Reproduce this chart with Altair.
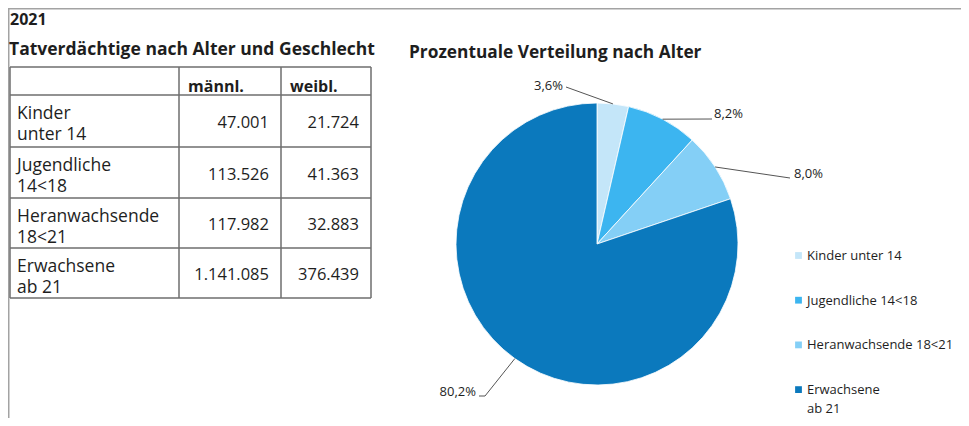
import math
import altair as alt
import pandas as pd

# ---------------- data ----------------
year = "2021"
table_title = "Tatverdächtige nach Alter und Geschlecht"
pie_title = "Prozentuale Verteilung nach Alter"
col_headers = ["männl.", "weibl."]
groups_line1 = ["Kinder", "Jugendliche", "Heranwachsende", "Erwachsene"]
groups_line2 = ["unter 14", "14<18", "18<21", "ab 21"]
male = [47001, 113526, 117982, 1141085]
female = [21724, 41363, 32883, 376439]
legend_labels = ["Kinder unter 14", "Jugendliche 14<18", "Heranwachsende 18<21", "Erwachsene\nab 21"]
pct = [3.6, 8.2, 8.0, 80.2]
pct_labels = ["3,6%", "8,2%", "8,0%", "80,2%"]
colors = ["#c4e6f9", "#3cb5f0", "#84cff6", "#0b79bd"]

# ---------------- layout ----------------
FONT = "Open Sans"
TXT = "#1e1e1e"
OFF = 8
W, H = 953, 410
xs = alt.Scale(domain=[OFF, OFF + W], nice=False, zero=False)
ys = alt.Scale(domain=[OFF, OFF + H], reverse=True, nice=False, zero=False)

col_edges = [10, 179, 281, 371]
row_edges = [67, 95, 147, 198, 248, 298]
pie_cx, pie_cy, pie_r = 597, 244, 141


def de(n):
    return f"{n:,}".replace(",", ".")


def X(f):
    return alt.X(f"{f}:Q", scale=xs, axis=None)


def Y(f):
    return alt.Y(f"{f}:Q", scale=ys, axis=None)


# frame
frame = pd.DataFrame({"x": [OFF, OFF], "y": [OFF, OFF], "x2": [OFF + W, OFF], "y2": [OFF, OFF + H]})
frame_layer = alt.Chart(frame).mark_rule(color="#a3a3a3", strokeWidth=3).encode(
    x=X("x"), y=Y("y"), x2="x2:Q", y2="y2:Q")

# table grid
grid_rows = []
for yv in row_edges:
    grid_rows.append({"x": col_edges[0], "x2": col_edges[-1], "y": yv, "y2": yv})
for xv in col_edges:
    grid_rows.append({"x": xv, "x2": xv, "y": row_edges[0], "y2": row_edges[-1]})
grid = alt.Chart(pd.DataFrame(grid_rows)).mark_rule(color="#6e6e6e", strokeWidth=1.5).encode(
    x=X("x"), y=Y("y"), x2="x2:Q", y2="y2:Q")

# titles
titles = pd.DataFrame({
    "t": [year, table_title, pie_title],
    "x": [10, 9, 409],
    "y": [25, 55, 58],
    "s": [16, 17.5, 17.3],
})
title_layer = alt.Chart(titles).mark_text(font=FONT, fontWeight="bold", align="left",
                                          baseline="alphabetic", color=TXT).encode(
    x=X("x"), y=Y("y"), text="t:N", size=alt.Size("s:Q", scale=None, legend=None))

# header
hdr = pd.DataFrame({"t": col_headers, "x": [c + 9 for c in col_edges[1:3]], "y": [row_edges[0] + 25] * 2})
hdr_layer = alt.Chart(hdr).mark_text(font=FONT, fontWeight="bold", fontSize=16, align="left",
                                     baseline="alphabetic", color=TXT).encode(
    x=X("x"), y=Y("y"), text="t:N")

# row labels
lab = pd.DataFrame({
    "t": [a + "\n" + b for a, b in zip(groups_line1, groups_line2)],
    "x": [col_edges[0] + 7] * 4,
    "y": [row_edges[i + 1] + 24 for i in range(4)],
})
lab_layer = alt.Chart(lab).mark_text(font=FONT, fontSize=17.5, align="left", baseline="alphabetic",
                                     lineBreak="\n", lineHeight=21, color=TXT).encode(
    x=X("x"), y=Y("y"), text="t:N")

# numbers
nums = []
for i in range(4):
    mid = (row_edges[i + 1] + row_edges[i + 2]) / 2
    nums.append({"t": de(male[i]), "x": col_edges[2] - 12, "y": mid + 7})
    nums.append({"t": de(female[i]), "x": col_edges[3] - 12, "y": mid + 7})
num_layer = alt.Chart(pd.DataFrame(nums)).mark_text(font=FONT, fontSize=16.5, align="right",
                                                    baseline="alphabetic", color=TXT).encode(
    x=X("x"), y=Y("y"), text="t:N")

# pie
pie_df = pd.DataFrame({"g": legend_labels, "pct": pct, "idx": list(range(4))})
cscale = alt.Scale(domain=legend_labels, range=colors)
pie = alt.Chart(pie_df).mark_arc(radius=pie_r, stroke="white", strokeWidth=0.8).encode(
    theta=alt.Theta("pct:Q", stack=True),
    color=alt.Color("g:N", scale=cscale, legend=None),
    order=alt.Order("idx:Q"),
    x=alt.value(pie_cx - OFF), y=alt.value(pie_cy - OFF))

# leader lines: start at middle of each slice on the rim
leader_ends = [[(566, 87)], [(712, 119)], [(790, 178)], [(485, 396), (479, 396)]]
lead = []
cum = 0.0
for i, p in enumerate(pct):
    a = (cum + p / 2) / 100 * 2 * math.pi
    cum += p
    pts = [(pie_cx + pie_r * math.sin(a), pie_cy - pie_r * math.cos(a))] + leader_ends[i]
    for k, (px, py) in enumerate(pts):
        lead.append({"g": str(i), "k": k, "x": px, "y": py})
lead_layer = alt.Chart(pd.DataFrame(lead)).mark_line(color="#555555", strokeWidth=1).encode(
    x=X("x"), y=Y("y"), detail="g:N", order="k:Q")

# pie labels
pl = pd.DataFrame({
    "t": pct_labels,
    "x": [563, 714, 794, 476],
    "y": [90, 118, 178, 396],
    "a": ["right", "left", "left", "right"],
})
pl_r = alt.Chart(pl[pl.a == "right"]).mark_text(font=FONT, fontSize=13, align="right",
                                                baseline="alphabetic", color=TXT).encode(
    x=X("x"), y=Y("y"), text="t:N")
pl_l = alt.Chart(pl[pl.a == "left"]).mark_text(font=FONT, fontSize=13, align="left",
                                               baseline="alphabetic", color=TXT).encode(
    x=X("x"), y=Y("y"), text="t:N")

# legend
leg_y0, leg_step = 260, 44.7
leg = pd.DataFrame({
    "g": legend_labels,
    "y": [leg_y0 + i * leg_step for i in range(4)],
    "ys": [leg_y0 + i * leg_step - 4.5 for i in range(4)],
    "x": [807] * 4,
    "xs": [798.5] * 4,
})
leg_sq = alt.Chart(leg).mark_square(size=46, opacity=1).encode(
    x=X("xs"), y=Y("ys"), color=alt.Color("g:N", scale=cscale, legend=None))
leg_tx = alt.Chart(leg).mark_text(font=FONT, fontSize=13, align="left", baseline="alphabetic",
                                  lineBreak="\n", lineHeight=19, color=TXT).encode(
    x=X("x"), y=Y("y"), text="g:N")

chart = alt.layer(
    frame_layer, grid, title_layer, hdr_layer, lab_layer, num_layer,
    pie, lead_layer, pl_r, pl_l, leg_sq, leg_tx
).properties(
    width=W, height=H, padding=0, autosize=alt.AutoSizeParams(type="none")
).configure_view(stroke=None)

chart.save("out.html", embed_options={"renderer": "svg", "actions": False})
